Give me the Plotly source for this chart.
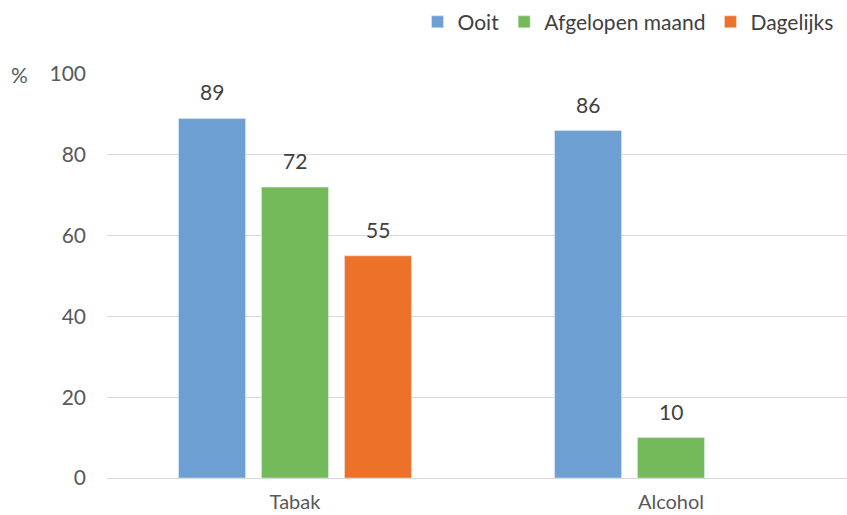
import plotly.graph_objects as go

categories = ["Tabak", "Alcohol"]
series_names = ["Ooit", "Afgelopen maand", "Dagelijks"]
ooit = [89, 86]
afgelopen_maand = [72, 10]
dagelijks = [55, None]
colors = ["#6E9FD2", "#74BA5A", "#EC7229"]

series = [ooit, afgelopen_maand, dagelijks]
bar_slot_px = 83  # horizontal distance between neighbouring bars of one group

fig = go.Figure()
annotations = []
for i, (name, vals, col) in enumerate(zip(series_names, series, colors)):
    fig.add_trace(go.Bar(x=categories, y=vals, name=name, marker_color=col))
    for cat, v in zip(categories, vals):
        if v is None:
            continue
        annotations.append(dict(
            x=cat, y=v, xref="x", yref="y", text=str(v), showarrow=False,
            xanchor="center", yanchor="bottom",
            xshift=(i - 1) * bar_slot_px, yshift=12,
            font=dict(size=21, color="#404040"),
        ))

annotations.append(dict(text="%", xref="paper", yref="paper", x=-0.1176, y=1.0,
                        xanchor="center", yanchor="middle", showarrow=False,
                        font=dict(size=21, color="#595959")))

fig.update_layout(
    width=847, height=515,
    margin=dict(l=107, r=0, t=74, b=37, autoexpand=False),
    paper_bgcolor="white", plot_bgcolor="white",
    font=dict(family="Lato, Open Sans, sans-serif", color="#595959", size=20),
    barmode="group", bargap=0.338, bargroupgap=0.193,
    showlegend=True,
    legend=dict(orientation="h", xref="container", yref="container",
                x=0.99, xanchor="right", y=0.957, yanchor="middle",
                font=dict(size=21, color="#404040"), itemwidth=30,
                traceorder="normal", tracegroupgap=0),
    xaxis=dict(range=[-0.5, 1.468], showgrid=False, showline=False, ticks="",
               automargin=False, ticklabelstandoff=10,
               tickfont=dict(size=20, color="#595959")),
    yaxis=dict(range=[0, 100], dtick=20, showgrid=True, gridcolor="#D9D9D9",
               gridwidth=1, zeroline=True, zerolinecolor="#D9D9D9", zerolinewidth=1,
               ticks="", ticklabelstandoff=20, automargin=False,
               tickfont=dict(size=21, color="#595959")),
    annotations=annotations,
)
fig.write_html("out.html", config={"displayModeBar": False},
               post_script="document.body.style.margin='0';document.body.style.padding='0';")
